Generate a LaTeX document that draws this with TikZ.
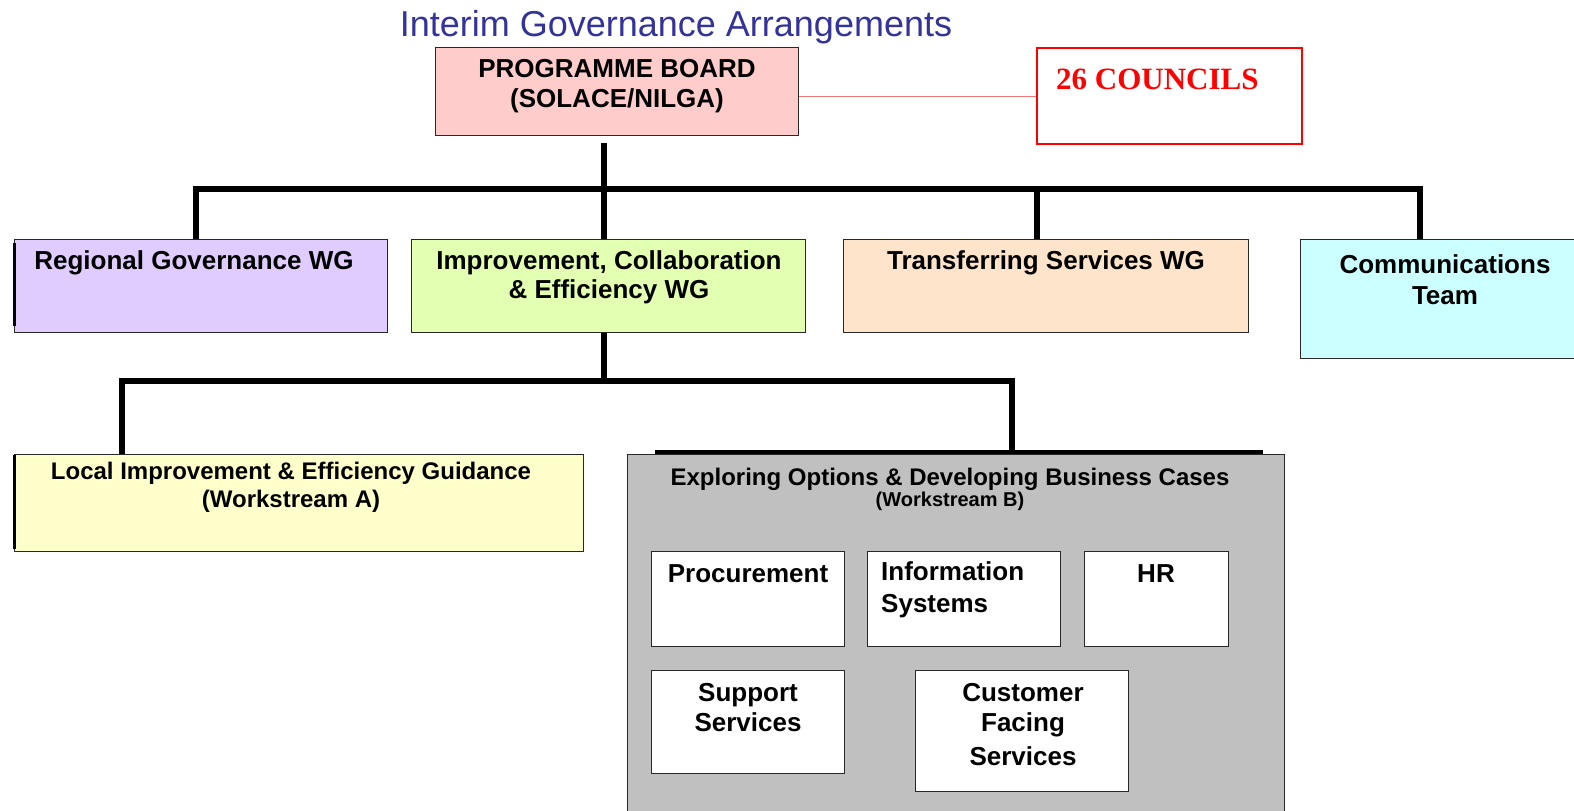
\documentclass[tikz,border=0pt]{standalone}
\usepackage{fontspec}
\setmainfont{Liberation Sans}
\newfontfamily\serifbold{Liberation Serif}[BoldFont={Liberation Serif Bold}]
\definecolor{titleblue}{RGB}{51,51,153}
\definecolor{pinkfill}{RGB}{255,204,204}
\definecolor{lavfill}{RGB}{224,204,255}
\definecolor{limefill}{RGB}{226,255,178}
\definecolor{peachfill}{RGB}{255,228,204}
\definecolor{cyanfill}{RGB}{204,255,255}
\definecolor{yelfill}{RGB}{255,255,204}
\definecolor{grayfill}{RGB}{192,192,192}
\definecolor{boxline}{RGB}{40,40,40}
\definecolor{redline}{RGB}{240,120,120}
\begin{document}
\begin{tikzpicture}[x=1pt,y=-1pt,
  box/.style={draw=boxline, line width=1.4pt, inner sep=0pt, anchor=north west},
  conn/.style={line width=6pt, line join=miter},
  lbl/.style={anchor=base, inner sep=0pt, font=\bfseries\fontsize{26}{30}\selectfont},
  lbls/.style={anchor=base, inner sep=0pt, font=\bfseries\fontsize{24}{28}\selectfont},
]
\useasboundingbox (0,0) rectangle (1574,811);
\clip (0,0) rectangle (1574,811);

% title
\node[anchor=base, inner sep=0pt, font=\fontsize{36}{40}\selectfont, text=titleblue] (title) at (676,36) {Interim Governance Arrangements};

% boxes
\node[box, fill=pinkfill, minimum width=363pt, minimum height=88pt] (board) at (435,47) {};
\node[box, draw=red, line width=2pt, fill=white, minimum width=265pt, minimum height=96pt] (councils) at (1036,47) {};
\node[box, fill=lavfill, minimum width=373pt, minimum height=93pt] (regional) at (14,239) {};
\node[box, fill=limefill, minimum width=394pt, minimum height=93pt] (improve) at (411,239) {};
\node[box, fill=peachfill, minimum width=405pt, minimum height=93pt] (transfer) at (843,239) {};
\node[box, fill=cyanfill, minimum width=290pt, minimum height=119pt] (comms) at (1300,239) {};
\node[box, fill=yelfill, minimum width=569pt, minimum height=97pt] (local) at (14,454) {};
\node[box, fill=grayfill, minimum width=657pt, minimum height=380pt] (gray) at (627,454) {};
\node[box, fill=white, minimum width=193pt, minimum height=95pt] (proc) at (651,551) {};
\node[box, fill=white, minimum width=193pt, minimum height=95pt] (info) at (867,551) {};
\node[box, fill=white, minimum width=144pt, minimum height=95pt] (hr) at (1084,551) {};
\node[box, fill=white, minimum width=193pt, minimum height=103pt] (supp) at (651,670) {};
\node[box, fill=white, minimum width=213pt, minimum height=121pt] (cust) at (915,670) {};

% thick left edges
\draw[line width=3pt] ([yshift=-4pt]regional.north west) -- ([yshift=7pt]regional.south west);
\draw[line width=3pt] ([yshift=-1pt]local.north west) -- ([yshift=3pt]local.south west);

% red link
\draw[redline, line width=1pt] (councils.west -| board.east) -- (councils.west);

% connectors level 1
\coordinate (t0) at (604,143);
\coordinate (j1) at (604,189);
\coordinate (d1) at (196,189);
\coordinate (d3) at (1037,189);
\coordinate (d4) at (1420,189);
\draw[conn] (t0) -- (j1);
\draw[conn] (d1 |- regional.north) -- (d1) -- (d4) -- (d4 |- comms.north);
\draw[conn] (j1) -- (j1 |- improve.north);
\draw[conn] (d3) -- (d3 |- transfer.north);

% connectors level 2
\coordinate (j2) at (604,381);
\coordinate (e1) at (122,381);
\coordinate (e2) at (1012,381);
\draw[conn] (j2 |- improve.south) -- (j2);
\draw[conn] (e1 |- local.north) -- (e1) -- (e2) -- ([yshift=1pt]e2 |- gray.north);

% gray box top line
\coordinate (g1) at (655,452);
\coordinate (g2) at (1263,452);
\draw[line width=4pt] (g1) -- (g2);

% texts
\node[lbl] (boardA) at (617,77) {PROGRAMME BOARD};
\node[lbl] (boardB) at (617,107) {(SOLACE/NILGA)};
\node[anchor=base west, inner sep=0pt, text=red, font=\serifbold\bfseries\fontsize{31}{34}\selectfont] (councilsT) at (1056,89) {26 COUNCILS};
\node[lbl] (regionalT) at (194,269) {Regional Governance WG};
\node[lbl] (improveA) at (609,269) {Improvement, Collaboration};
\node[lbl] (improveB) at (609,298) {\& Efficiency WG};
\node[lbl] (transferT) at (1046,269) {Transferring Services WG};
\node[lbl] (commsA) at (1445,273) {Communications};
\node[lbl] (commsB) at (1445,304) {Team};
\node[lbls] (localA) at (291,479) {Local Improvement \& Efficiency Guidance};
\node[lbls] (localB) at (291,507) {(Workstream A)};
\node[lbls] (grayA) at (950,485) {Exploring Options \& Developing Business Cases};
\node[anchor=base, inner sep=0pt, font=\bfseries\fontsize{20}{24}\selectfont] (grayB) at (950,506) {(Workstream B)};
\node[lbl] (procT) at (748,582) {Procurement};
\node[lbl, anchor=base west] (infoA) at (881,580) {Information};
\node[lbl, anchor=base west] (infoB) at (881,612) {Systems};
\node[lbl] (hrT) at (1156,582) {HR};
\node[lbl] (suppA) at (748,701) {Support};
\node[lbl] (suppB) at (748,731) {Services};
\node[lbl] (custA) at (1023,701) {Customer};
\node[lbl] (custB) at (1023,731) {Facing};
\node[lbl] (custC) at (1023,765) {Services};
\end{tikzpicture}
\end{document}
